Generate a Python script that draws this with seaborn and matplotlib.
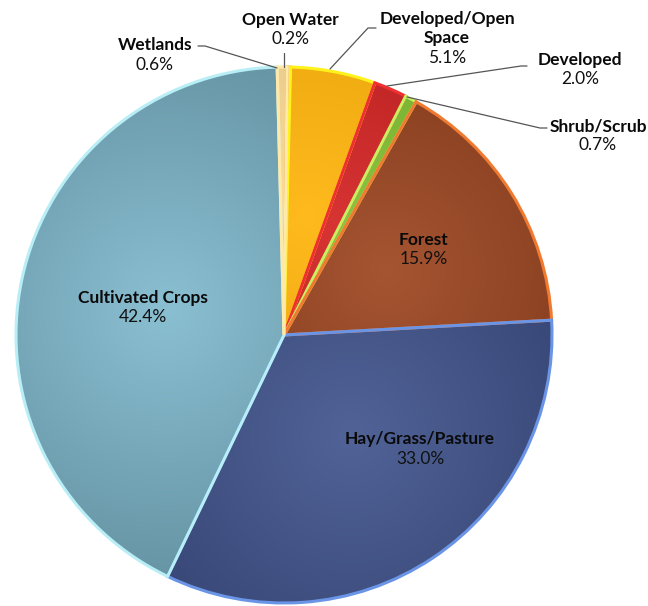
import numpy as np
import matplotlib
matplotlib.use("Agg")
import matplotlib.pyplot as plt
import seaborn as sns
from matplotlib.colors import to_rgb

# Land cover shares (percent), clockwise from the top of the pie
categories = ["Open Water", "Developed/Open\nSpace", "Developed", "Shrub/Scrub",
              "Forest", "Hay/Grass/Pasture", "Cultivated Crops", "Wetlands"]
shares = [0.2, 5.1, 2.0, 0.7, 15.9, 33.0, 42.4, 0.6]
pct_labels = ["0.2%", "5.1%", "2.0%", "0.7%", "15.9%", "33.0%", "42.4%", "0.6%"]

face_colors = ["#F2BE6E", "#FFB40A", "#D42222", "#80C030",
               "#9E4620", "#42558F", "#80BACE", "#FAD890"]
edge_colors = ["#E89A3A", "#FFF21A", "#F03030", "#C8F060",
               "#F07A30", "#6A94E6", "#B8EEF6", "#FFE9A8"]
# How strongly each slice darkens toward its rim
shade_depth = [0.12, 0.1, 0.15, 0.12, 0.2, 0.2, 0.2, 0.1]

sns.set_theme(style="white")
plt.rcParams["font.family"] = ["Lato", "DejaVu Sans"]

W, H = 648, 606
CX, CY, R = 284, 335, 268

fig = plt.figure(figsize=(W / 100, H / 100), dpi=100)
ax = fig.add_axes([0, 0, 1, 1])


def px(x, y):
    """Convert figure pixel coordinates to data coordinates."""
    return (x - CX) / R, (CY - y) / R


wedges, _ = ax.pie(shares, colors=face_colors, startangle=89.3, counterclock=False,
                   radius=1.0, center=(0, 0), frame=True,
                   wedgeprops=dict(linewidth=0))

# Soft radial shading inside each wedge
n = 500
xs = np.linspace(-1.02, 1.02, n)
ys = np.linspace(-1.02, 1.02, n)
gx, gy = np.meshgrid(xs, ys)
for w, fc, ec, depth in zip(wedges, face_colors, edge_colors, shade_depth):
    mid = np.deg2rad((w.theta1 + w.theta2) / 2)
    hx, hy = 0.45 * np.cos(mid), 0.45 * np.sin(mid)
    d = np.sqrt((gx - hx) ** 2 + (gy - hy) ** 2)
    t = np.clip(d / 1.0, 0, 1)
    base = np.array(to_rgb(fc))
    light = base + (1 - base) * 0.08
    dark = base * (1 - depth)
    img = light[None, None, :] * (1 - t[..., None]) + dark[None, None, :] * t[..., None]
    im = ax.imshow(img, extent=(-1.02, 1.02, -1.02, 1.02), origin="lower",
                   zorder=2, interpolation="bilinear")
    im.set_clip_path(w)
    w.set_facecolor("none")
    w.set_edgecolor(ec)
    w.set_linewidth(2.2)
    w.set_zorder(3)

ax.set_xlim(-CX / R, (W - CX) / R)
ax.set_ylim((CY - H) / R, CY / R)
ax.set_aspect("auto")
ax.axis("off")

FS = 12.5
LINE = 19.5


def label(x, y, name, pct):
    lines = name.split("\n")
    for i, ln in enumerate(lines):
        ax.text(*px(x, y + i * LINE), ln, ha="center", va="center",
                fontsize=FS, fontweight="bold", color="#0A0A0A", zorder=5)
    ax.text(*px(x, y + len(lines) * LINE), pct, ha="center", va="center",
            fontsize=FS, color="#111111", zorder=5)


positions = {
    "Open Water": (290, 20),
    "Developed/Open\nSpace": (447, 19),
    "Developed": (580, 60),
    "Shrub/Scrub": (598, 126),
    "Forest": (424, 240),
    "Hay/Grass/Pasture": (420, 439),
    "Cultivated Crops": (143, 298),
    "Wetlands": (155, 45),
}
for cat, pct in zip(categories, pct_labels):
    label(*positions[cat], cat, pct)

# Leader lines for the thin outer slices
leaders = [
    [(198, 46), (205, 46), (277, 68)],
    [(284, 53), (284, 67)],
    [(376, 28), (368, 28), (330, 69)],
    [(527, 66), (521, 66), (387, 86)],
    [(547, 128), (540, 128), (407, 97)],
]
for pts in leaders:
    dx, dy = zip(*[px(x, y) for x, y in pts])
    ax.plot(dx, dy, color="#555555", lw=0.9, zorder=4)

fig.savefig("out.png", dpi=100)
